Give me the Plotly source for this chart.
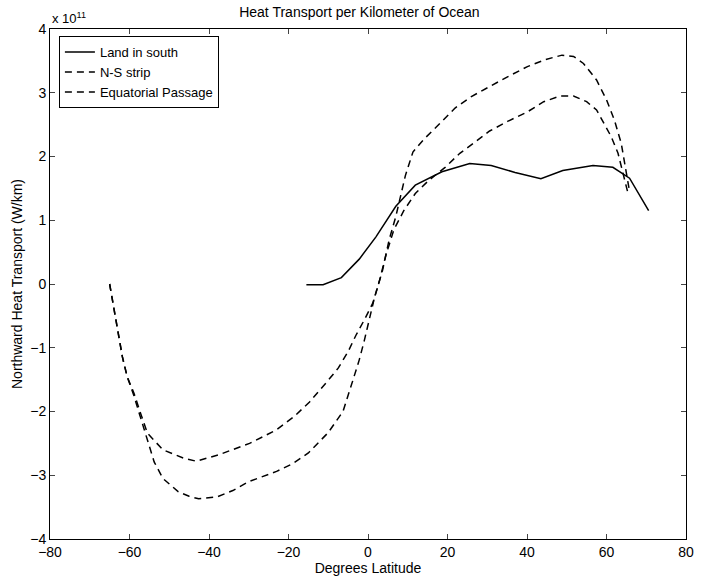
import plotly.graph_objects as go

# Land in south (solid)
land_lat = [-15.5, -11.3, -6.7, -2.2, 2.0, 7.0, 11.9, 18.6, 25.6, 31.0, 37.0, 43.5, 49.0, 56.6, 61.6, 65.8, 70.6]
land_val = [-0.01, -0.01, 0.10, 0.39, 0.74, 1.22, 1.55, 1.76, 1.89, 1.86, 1.75, 1.65, 1.78, 1.86, 1.83, 1.66, 1.15]

# N-S strip (dashed, larger amplitude)
ns_lat = [-65.0, -64.3, -63.4, -62.6, -61.8, -60.6, -58.9, -57.2, -55.5, -53.8, -51.6, -47.7, -45.0,
          -42.6, -38.0, -34.0, -30.0, -26.0, -23.0, -19.0, -15.0, -10.0, -6.3, -3.8, -2.2, -0.9,
          0.3, 1.6, 3.6, 5.3, 7.0, 9.4, 11.3, 14.2, 18.1, 21.9, 26.0, 30.6, 35.1, 40.1, 44.6,
          48.8, 51.7, 54.2, 57.5, 60.0, 62.0, 63.7, 65.8]
ns_val = [0.0, -0.25, -0.54, -0.88, -1.14, -1.45, -1.75, -2.10, -2.45, -2.79, -3.05, -3.26, -3.33,
          -3.37, -3.34, -3.24, -3.10, -3.01, -2.94, -2.82, -2.65, -2.33, -2.00, -1.51, -1.19, -0.88,
          -0.56, -0.22, 0.20, 0.69, 1.06, 1.70, 2.07, 2.28, 2.52, 2.76, 2.94, 3.10, 3.25, 3.41, 3.52,
          3.59, 3.57, 3.46, 3.20, 2.89, 2.57, 2.21, 1.45]

# Equatorial Passage (dashed, smaller amplitude)
eq_lat = [-65.0, -64.3, -63.4, -62.6, -61.8, -60.6, -58.9, -57.2, -55.5, -51.6, -46.5, -43.2, -37.6,
          -29.8, -23.1, -18.6, -14.7, -10.0, -7.5, -5.0, -3.0, -0.9, 1.2, 2.8, 4.5, 6.5, 9.0, 11.9,
          15.2, 19.4, 23.1, 26.8, 30.6, 35.1, 40.1, 44.2, 48.4, 51.7, 55.0, 57.5, 59.1, 61.2, 62.9,
          64.1, 65.3]
eq_val = [0.0, -0.25, -0.54, -0.88, -1.14, -1.45, -1.71, -2.03, -2.34, -2.60, -2.73, -2.78, -2.68,
          -2.50, -2.29, -2.08, -1.85, -1.51, -1.32, -1.06, -0.80, -0.56, -0.30, 0.03, 0.45, 0.85,
          1.15, 1.42, 1.62, 1.83, 2.05, 2.22, 2.40, 2.55, 2.70, 2.86, 2.95, 2.95, 2.86, 2.73, 2.55,
          2.31, 2.05, 1.74, 1.45]

x_ticks = [-80, -60, -40, -20, 0, 20, 40, 60, 80]
y_ticks = [-4, -3, -2, -1, 0, 1, 2, 3, 4]

FONT = "Liberation Sans, Arial, Helvetica, sans-serif"

fig = go.Figure()
fig.add_trace(go.Scatter(x=land_lat, y=land_val, mode="lines", name="Land in south",
                         line=dict(color="black", width=1.5)))
fig.add_trace(go.Scatter(x=ns_lat, y=ns_val, mode="lines", name="N-S strip",
                         line=dict(color="black", width=1.5, dash="7px,5px")))
fig.add_trace(go.Scatter(x=eq_lat, y=eq_val, mode="lines", name="Equatorial Passage",
                         line=dict(color="black", width=1.5, dash="7px,5px")))

fig.update_layout(
    width=702, height=582,
    margin=dict(l=50, r=8, t=29, b=43),
    paper_bgcolor="white", plot_bgcolor="white",
    font=dict(family=FONT, size=14, color="black"),
    title=dict(text="Heat Transport per Kilometer of Ocean", x=0.512, xanchor="center",
               y=0.988, yanchor="top", font=dict(size=14)),
    showlegend=True,
    legend=dict(x=0.014, y=0.986, xanchor="left", yanchor="top",
                bgcolor="white", bordercolor="black", borderwidth=1,
                font=dict(size=13), tracegroupgap=0, itemwidth=30),
)
fig.update_xaxes(range=[-80, 80], tickvals=x_ticks, ticks="inside", ticklen=5,
                 showline=True, linecolor="black", linewidth=1, mirror="ticks",
                 showgrid=False, zeroline=False, tickfont=dict(size=14),
                 title=dict(text="Degrees Latitude", standoff=2, font=dict(size=14)))
fig.update_yaxes(range=[-4, 4], tickvals=y_ticks, ticks="inside", ticklen=5,
                 showline=True, linecolor="black", linewidth=1, mirror="ticks",
                 showgrid=False, zeroline=False, tickfont=dict(size=14),
                 title=dict(text="Northward Heat Transport (W/km)", standoff=4, font=dict(size=14)))
fig.add_annotation(text="x 10<sup>11</sup>", xref="paper", yref="paper", x=0.0, y=1.0,
                   xanchor="left", yanchor="bottom", showarrow=False, font=dict(size=13), yshift=1)

fig.write_html("out.html")
